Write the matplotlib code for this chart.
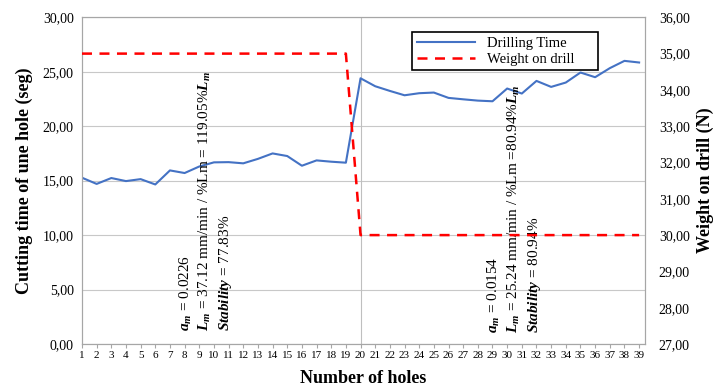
import matplotlib
matplotlib.use('Agg')
import matplotlib.pyplot as plt
from matplotlib.ticker import FuncFormatter, MultipleLocator

plt.rcParams['font.family'] = ['Liberation Serif', 'DejaVu Serif']
plt.rcParams['mathtext.fontset'] = 'custom'
plt.rcParams['mathtext.rm'] = 'Liberation Serif'
plt.rcParams['mathtext.it'] = 'Liberation Serif:italic'
plt.rcParams['mathtext.bf'] = 'Liberation Serif:bold'
plt.rcParams['mathtext.bfit'] = 'Liberation Serif:italic:bold'

# data
holes = list(range(1, 40))
drilling_time = [15.27, 14.70, 15.24, 14.96, 15.14, 14.65, 15.94, 15.70, 16.30, 16.68,
                 16.70, 16.59, 17.00, 17.50, 17.26, 16.37, 16.86, 16.74, 16.65, 24.40,
                 23.67, 23.24, 22.84, 23.03, 23.09, 22.60, 22.47, 22.35, 22.29, 23.46,
                 23.00, 24.16, 23.61, 24.01, 24.93, 24.50, 25.33, 26.00, 25.85]
weight_on_drill = [35] * 19 + [30] * 20

note_left = ('$\\mathbfit{a_m}$ = 0.0226\n'
             '$\\mathbfit{L_m}$ = 37.12 mm/min / %Lm = 119.05%$\\mathbfit{L_m}$\n'
             '$\\mathbfit{Stability}$ = 77.83%')
note_right = ('$\\mathbfit{a_m}$ = 0.0154\n'
              '$\\mathbfit{L_m}$ = 25.24 mm/min / %Lm =80.94%$\\mathbfit{L_m}$\n'
              '$\\mathbfit{Stability}$ = 80.94%')

fig = plt.figure(figsize=(7.16, 3.89), dpi=100)
ax = fig.add_axes([0.1145, 0.1157, 0.7863, 0.8398])
ax2 = ax.twinx()

grid_c = '#C8C8C8'
fmt = FuncFormatter(lambda v, p: f'{v:.2f}'.replace('.', ','))

ax.plot(holes, drilling_time, color='#4472C4', lw=1.5, label='Drilling Time', zorder=3)
ax2.plot(holes, weight_on_drill, color='#FF0000', lw=1.8, ls=(0, (4, 3)),
         label='Weight on drill', zorder=3)

ax.axvline(20, color='#BFBFBF', lw=0.8, zorder=1)

ax.set_xlim(1, 39.4)
ax.set_ylim(0, 30)
ax2.set_ylim(27, 36)
ax.set_xticks(holes)
ax.yaxis.set_major_locator(MultipleLocator(5))
ax2.yaxis.set_major_locator(MultipleLocator(1))
ax.yaxis.set_major_formatter(fmt)
ax2.yaxis.set_major_formatter(fmt)
ax.grid(axis='y', color=grid_c, lw=0.8)
ax.set_axisbelow(True)

for a in (ax, ax2):
    for s in a.spines.values():
        s.set_color('#A6A6A6')
        s.set_linewidth(0.8)
ax.tick_params(axis='x', labelsize=8, length=3, color='#A6A6A6', pad=2)
ax.tick_params(axis='y', labelsize=10, length=0, pad=6)
ax2.tick_params(axis='y', labelsize=10, length=0, pad=10)

ax.set_xlabel('Number of holes', fontsize=13, fontweight='bold', labelpad=7)
ax.set_ylabel('Cutting time of une hole (seg)', fontsize=13, fontweight='bold', labelpad=7)
ax2.set_ylabel('Weight on drill (N)', fontsize=13, fontweight='bold', labelpad=5)

ax.text(9.45, 1.2, note_left, rotation=90, ha='center', va='bottom', fontsize=11,
        linespacing=1.3, multialignment='left', zorder=4)
ax.text(30.5, 1.0, note_right, rotation=90, ha='center', va='bottom', fontsize=11,
        linespacing=1.3, multialignment='left', zorder=4)

h1, l1 = ax.get_legend_handles_labels()
h2, l2 = ax2.get_legend_handles_labels()
leg = ax2.legend(h1 + h2, l1 + l2, loc='upper left', mode='expand',
                 bbox_to_anchor=(405 / 716, 1 - 61 / 389, 200 / 716, 36 / 389),
                 bbox_transform=fig.transFigure, fontsize=10.5, handlelength=4,
                 fancybox=False, framealpha=1, borderpad=0.3, labelspacing=0.2)
leg.get_frame().set_edgecolor('black')
leg.get_frame().set_linewidth(1.2)

fig.savefig('out.png', dpi=100)
